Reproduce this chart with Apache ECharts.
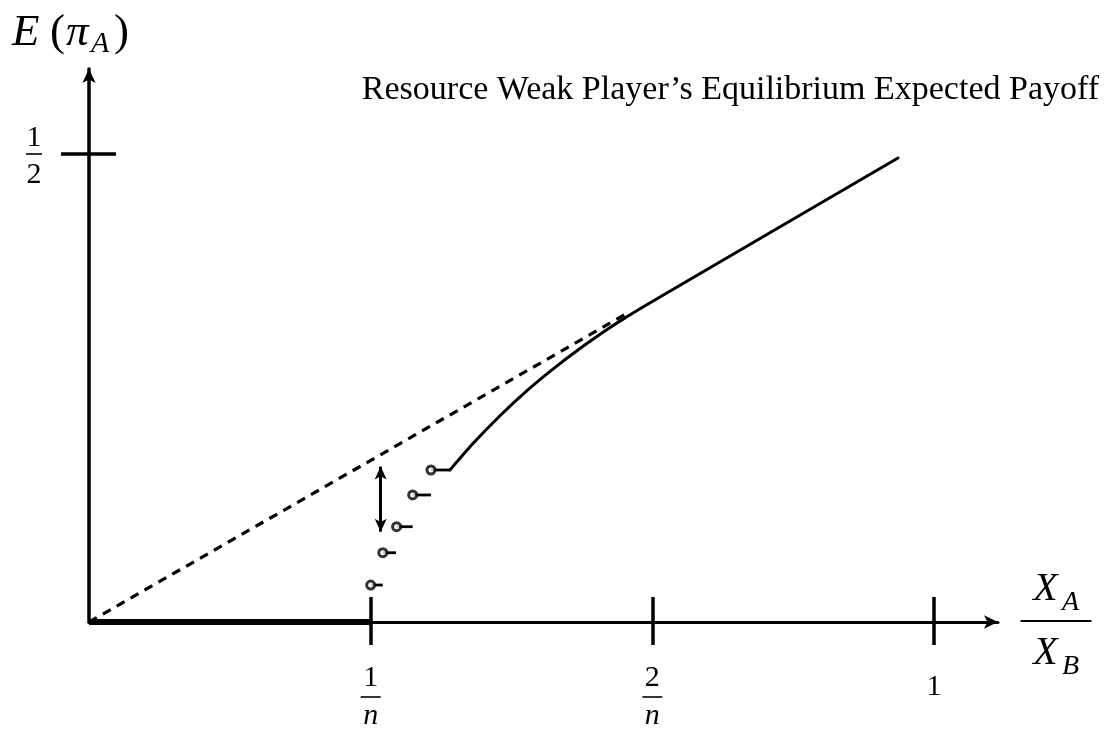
<!DOCTYPE html>
<html><head><meta charset="utf-8">
<script src="https://cdn.jsdelivr.net/npm/echarts@6/dist/echarts.min.js"></script>
<style>html,body{margin:0;padding:0;background:#fff}#c{width:1113px;height:732px}</style>
</head><body><div id="c"></div>
<script>
// x measured in units of 1/n ; y is the expected payoff
const xTickValues = [1, 2, 3];
const xTickLabels = ['1/n', '2/n', '1'];
const yTickValues = [0.5];
const yTickLabels = ['1/2'];

const zeroX = [0, 1];
const zeroY = [0, 0];

const stepX = [1.0, 1.043, 1.092, 1.149, 1.214];
const stepEndX = [1.043, 1.090, 1.149, 1.214, 1.2815];
const stepY = [0.0395, 0.074, 0.1018, 0.1357, 0.1624];

const curveX = [1.2815, 1.364, 1.459, 1.554, 1.648, 1.743, 1.838, 1.903, 2.027, 2.872];
const curveY = [0.1624, 0.1909, 0.2204, 0.2470, 0.2705, 0.2922, 0.3122, 0.3249, 0.3472, 0.4957];

const dashX = [0, 1.903];
const dashY = [0, 0.3285];

const arrowX = 1.0355;
const arrowY = [0.166, 0.0965];

const titleText = 'Resource Weak Player\u2019s Equilibrium Expected Payoff';

const zip = (a, b) => a.map((v, i) => [v, b[i]]);
const SERIF = 'Liberation Serif';
const BLK = '#000';

const chart = echarts.init(document.getElementById('c'), null, {renderer: 'canvas'});

function xFmt(v) {
  const i = xTickValues.indexOf(v);
  const lab = i >= 0 ? xTickLabels[i] : '';
  if (lab.indexOf('/') >= 0) {
    const p = lab.split('/');
    return '{num|' + p[0] + '}\n{bar| }\n{den|' + p[1] + '}';
  }
  return '{one|' + lab + '}\n{sp| }';
}
function yFmt(v) {
  const i = yTickValues.indexOf(v);
  const lab = i >= 0 ? yTickLabels[i] : '';
  const p = lab.split('/');
  return '{n1|' + p[0] + '}\n{bar| }\n{n2|' + p[1] + '}';
}

const XMAX = 3.227, YMAX = 0.5908;

const series = [];
series.push({type: 'line', data: zip(zeroX, zeroY), showSymbol: false, symbol: 'none', clip: false,
  lineStyle: {color: BLK, width: 6}, silent: true, z: 3});
series.push({type: 'line', data: zip(dashX, dashY), showSymbol: false, symbol: 'none', clip: false,
  lineStyle: {color: BLK, width: 3.2, type: [9, 7]}, silent: true, z: 2});
stepY.forEach((y, i) => {
  series.push({type: 'line', data: [[stepX[i], y], [stepEndX[i], y]], showSymbol: false, symbol: 'none', clip: false,
    lineStyle: {color: BLK, width: 2.8}, silent: true, z: 3});
});
series.push({type: 'line', data: zip(curveX, curveY), showSymbol: false, symbol: 'none', clip: false, smooth: 0.25,
  lineStyle: {color: BLK, width: 3, cap: 'round', join: 'round'}, silent: true, z: 3});
series.push({type: 'scatter', data: zip(stepX, stepY), symbol: 'circle', symbolSize: 8, clip: false,
  itemStyle: {color: '#fff', borderColor: BLK, borderWidth: 3}, silent: true, z: 5,
  markLine: {silent: true, symbol: ['arrow', 'arrow'], symbolSize: [9, 13], animation: false,
    lineStyle: {color: BLK, width: 3, type: 'solid'}, label: {show: false},
    emphasis: {disabled: true},
    data: [[{coord: [arrowX, arrowY[0]]}, {coord: [arrowX, arrowY[1]]}]]}
});

const option = {
  animation: false,
  backgroundColor: '#fff',
  title: {text: titleText, right: 9, top: 68,
    textStyle: {fontFamily: SERIF, fontSize: 34, fontWeight: 'normal', color: BLK}},
  grid: {left: 89, right: 115, top: 69, bottom: 110, containLabel: false},
  xAxis: [
    {type: 'value', min: 0, max: XMAX, position: 'bottom',
      axisLine: {show: true, onZero: false, symbol: ['none', 'arrow'], symbolSize: [10, 14], lineStyle: {color: BLK, width: 3}},
      axisTick: {show: true, customValues: xTickValues, length: 23, lineStyle: {color: BLK, width: 3.5}},
      axisLabel: {show: true, customValues: xTickValues, margin: 75, verticalAlign: 'middle', formatter: xFmt, color: BLK,
        rich: {
          num: {fontFamily: SERIF, fontSize: 30, lineHeight: 32, color: BLK},
          den: {fontFamily: SERIF, fontStyle: 'italic', fontSize: 30, lineHeight: 32, color: BLK},
          bar: {width: 20, height: 1.6, backgroundColor: BLK, fontSize: 1, lineHeight: 6},
          one: {fontFamily: SERIF, fontSize: 30, lineHeight: 30, color: BLK},
          sp: {fontSize: 1, lineHeight: 20}
        }},
      splitLine: {show: false}},
    {type: 'value', min: 0, max: XMAX, position: 'bottom',
      axisLine: {show: false},
      axisTick: {show: true, inside: true, customValues: xTickValues, length: 25, lineStyle: {color: BLK, width: 3.5}},
      axisLabel: {show: false}, splitLine: {show: false}}
  ],
  yAxis: [
    {type: 'value', min: 0, max: YMAX, position: 'left',
      axisLine: {show: true, onZero: false, symbol: ['none', 'arrow'], symbolSize: [10, 14], lineStyle: {color: BLK, width: 3.5}},
      axisTick: {show: true, customValues: yTickValues, length: 28, lineStyle: {color: BLK, width: 3.5}},
      axisLabel: {show: true, customValues: yTickValues, margin: 55, align: 'center', verticalAlign: 'middle', formatter: yFmt, color: BLK,
        padding: [10, 0, 0, 0],
        rich: {
          n1: {fontFamily: SERIF, fontSize: 30, lineHeight: 26, color: BLK},
          n2: {fontFamily: SERIF, fontSize: 30, lineHeight: 36, color: BLK},
          bar: {width: 16, height: 1.6, backgroundColor: BLK, fontSize: 1, lineHeight: 6}
        }},
      splitLine: {show: false}},
    {type: 'value', min: 0, max: YMAX, position: 'left',
      axisLine: {show: false},
      axisTick: {show: true, inside: true, customValues: yTickValues, length: 27, lineStyle: {color: BLK, width: 3.5}},
      axisLabel: {show: false}, splitLine: {show: false}}
  ],
  graphic: [
    {type: 'text', left: 12, top: 11, silent: true,
      style: {text: '{e|E}{l|(}{p|\u03C0}{s|A}{r|)}', fill: BLK,
        rich: {
          e: {fontFamily: SERIF, fontStyle: 'italic', fontSize: 45, lineHeight: 52, width: 38, fill: BLK},
          l: {fontFamily: SERIF, fontSize: 45, lineHeight: 52, width: 16, fill: BLK},
          p: {fontFamily: SERIF, fontStyle: 'italic', fontSize: 45, lineHeight: 52, width: 25, fill: BLK},
          s: {fontFamily: SERIF, fontStyle: 'italic', fontSize: 30, lineHeight: 22, width: 23, verticalAlign: 'bottom', fill: BLK},
          r: {fontFamily: SERIF, fontSize: 45, lineHeight: 52, width: 15, fill: BLK}
        }}},
    {type: 'text', x: 1056, y: 621, silent: true,
      style: {text: '{x|X}{s|A}\n{bar| }\n{x|X}{s|B}', fill: BLK, align: 'center', verticalAlign: 'middle',
        rich: {
          x: {fontFamily: SERIF, fontStyle: 'italic', fontSize: 40, lineHeight: 56, width: 29, fill: BLK},
          s: {fontFamily: SERIF, fontStyle: 'italic', fontSize: 28, lineHeight: 42, width: 21, verticalAlign: 'bottom', fill: BLK},
          bar: {width: 71, height: 2, backgroundColor: BLK, fontSize: 1, lineHeight: 8}
        }}}
  ],
  series: series
};
chart.setOption(option);
</script>
</body></html>
